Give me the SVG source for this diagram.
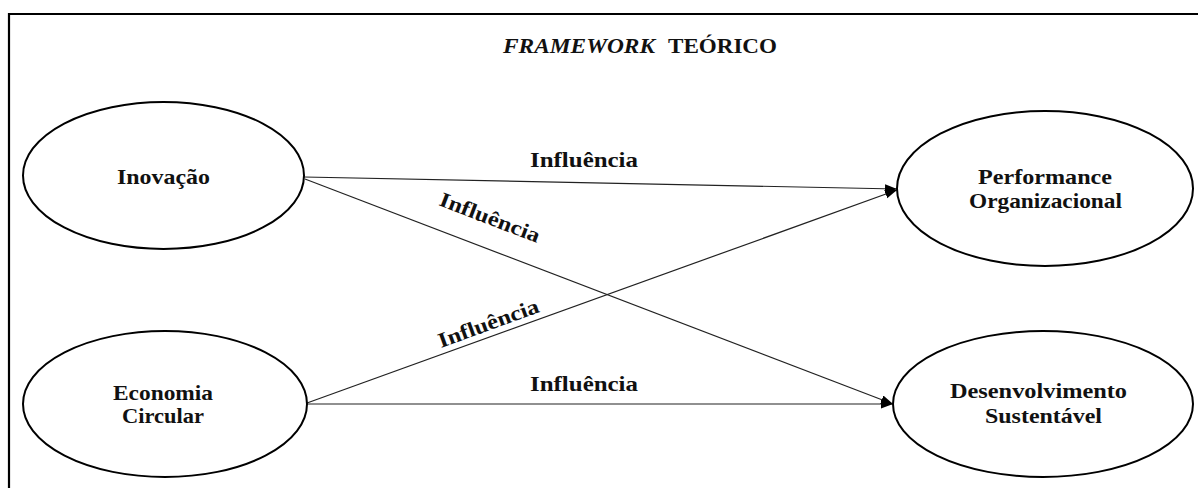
<svg xmlns="http://www.w3.org/2000/svg" width="1198" height="488" viewBox="0 0 1198 488">
<style>
.node{fill:#fff;stroke:#000;stroke-width:2}
.lbl{font-family:"Liberation Serif","Times New Roman",serif;font-weight:bold;font-size:22px;fill:#111}
.el{font-family:"Liberation Serif","Times New Roman",serif;font-weight:bold;font-size:21px;fill:#111}
.conn{stroke:#222;stroke-width:1.2;fill:none;marker-end:url(#arr)}
</style>
<defs>
<marker id="arr" markerUnits="userSpaceOnUse" markerWidth="13" markerHeight="10" refX="12" refY="4.5" orient="auto">
<path d="M0,0 L12,4.5 L0,9 z" fill="#000"/>
</marker>
</defs>
<rect width="1198" height="488" fill="#fff"/>
<path d="M9,488 V14 H1198" fill="none" stroke="#000" stroke-width="2.2"/>
<g id="title">
<text x="503" y="53" class="lbl" font-size="20" font-style="italic" textLength="152" lengthAdjust="spacingAndGlyphs">FRAMEWORK</text>
<text x="668" y="53" class="lbl" font-size="20" textLength="109" lengthAdjust="spacingAndGlyphs">TEÓRICO</text>
</g>
<g id="connectors">
<line class="conn" x1="304" y1="177" x2="897" y2="189"/>
<line class="conn" x1="305" y1="179" x2="893" y2="404"/>
<line class="conn" x1="307" y1="403" x2="897" y2="190"/>
<line class="conn" x1="307" y1="404" x2="893" y2="404"/>
<text class="el" x="530" y="167" textLength="108" lengthAdjust="spacingAndGlyphs">Influência</text>
<text class="el" x="530" y="391" textLength="108" lengthAdjust="spacingAndGlyphs">Influência</text>
<text class="el" x="0" y="0" textLength="106" lengthAdjust="spacingAndGlyphs" transform="translate(438,205) rotate(21)">Influência</text>
<text class="el" x="0" y="0" textLength="106" lengthAdjust="spacingAndGlyphs" transform="translate(441,348) rotate(-20)">Influência</text>
</g>
<g id="inovacao">
<ellipse class="node" cx="163.5" cy="175.5" rx="140.5" ry="73.5"/>
<text class="lbl" x="117" y="184" textLength="93" lengthAdjust="spacingAndGlyphs">Inovação</text>
</g>
<g id="economia">
<ellipse class="node" cx="165" cy="404" rx="142" ry="73"/>
<text class="lbl" x="113" y="400" textLength="100" lengthAdjust="spacingAndGlyphs">Economia</text>
<text class="lbl" x="122" y="423" textLength="82" lengthAdjust="spacingAndGlyphs">Circular</text>
</g>
<g id="performance">
<ellipse class="node" cx="1045" cy="188.5" rx="148" ry="77.5"/>
<text class="lbl" x="978" y="184" textLength="134" lengthAdjust="spacingAndGlyphs">Performance</text>
<text class="lbl" x="969" y="208" textLength="153" lengthAdjust="spacingAndGlyphs">Organizacional</text>
</g>
<g id="desenvolvimento">
<ellipse class="node" cx="1043" cy="404" rx="150" ry="73"/>
<text class="lbl" x="950" y="398" textLength="177" lengthAdjust="spacingAndGlyphs">Desenvolvimento</text>
<text class="lbl" x="985" y="423" textLength="117" lengthAdjust="spacingAndGlyphs">Sustentável</text>
</g>
</svg>
